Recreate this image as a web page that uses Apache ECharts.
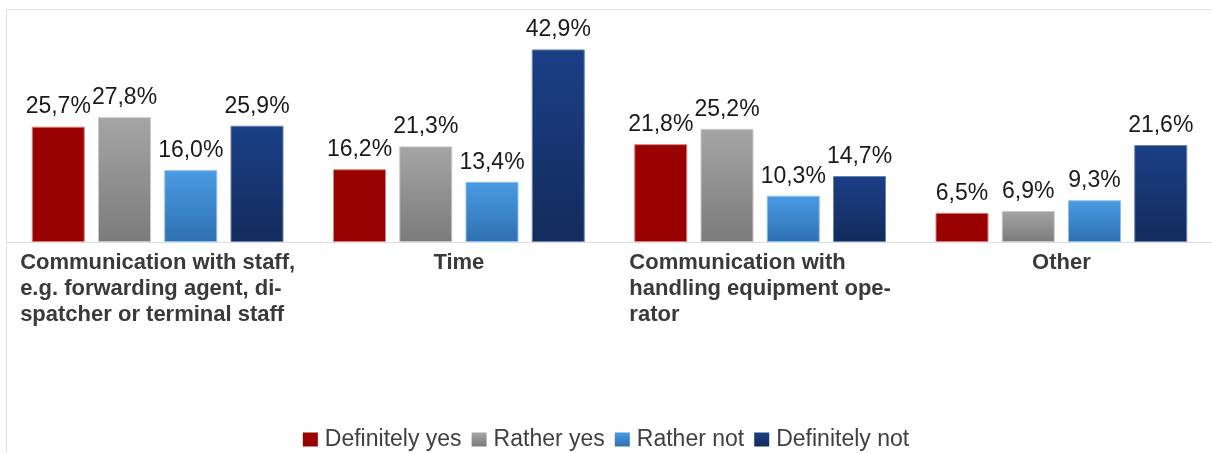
<!DOCTYPE html>
<html>
<head>
<meta charset="utf-8">
<script src="https://cdn.jsdelivr.net/npm/echarts@6/dist/echarts.min.js"></script>
<style>
html,body{margin:0;padding:0;background:#fff;}
#chart{width:1212px;height:453px;}
</style>
</head>
<body>
<div id="chart"></div>
<script>
const categories = [
  'Communication with staff,\ne.g. forwarding agent, di-\nspatcher or terminal staff',
  'Time',
  'Communication with\nhandling equipment ope-\nrator',
  'Other'
];
const seriesNames = ['Definitely yes', 'Rather yes', 'Rather not', 'Definitely not'];
const definitelyYes = [25.7, 16.2, 21.8, 6.5];
const ratherYes = [27.8, 21.3, 25.2, 6.9];
const ratherNot = [16.0, 13.4, 10.3, 9.3];
const definitelyNot = [25.9, 42.9, 14.7, 21.6];

const values = [definitelyYes, ratherYes, ratherNot, definitelyNot];
function grad(top, bottom) {
  return new echarts.graphic.LinearGradient(0, 0, 0, 1, [
    {offset: 0, color: top}, {offset: 1, color: bottom}
  ]);
}
const fills = [
  '#990000',
  grad('#a5a5a5', '#7b7b7b'),
  grad('#4a9be4', '#2f70b0'),
  grad('#1b3f86', '#132b5c')
];
const borders = ['#d98080', '#c8c8c8', '#8cc0ee', '#6a83b3'];
const legendColors = [
  '#990000',
  grad('#a5a5a5', '#7b7b7b'),
  grad('#4a9be4', '#2f70b0'),
  grad('#1b3f86', '#132b5c')
];

const chart = echarts.init(document.getElementById('chart'));
chart.setOption({
  animation: false,
  graphic: [{
    type: 'rect',
    shape: {x: 6.5, y: 9.5, width: 1230, height: 470},
    style: {fill: 'none', stroke: '#dde2ea', lineWidth: 1},
    silent: true
  }],
  legend: {
    top: 423,
    left: 'center',
    itemWidth: 15,
    itemHeight: 14,
    itemGap: 10,
    icon: 'rect',
    textStyle: {fontFamily: 'Liberation Sans', fontSize: 23, color: '#404040', padding: [0, 0, 0, 2]},
    data: seriesNames.map((n, i) => ({name: n, itemStyle: {color: legendColors[i], borderWidth: 0}}))
  },
  grid: {left: 7, width: 1209, top: 40, bottom: 211, containLabel: false},
  xAxis: {
    type: 'category',
    data: categories,
    axisLine: {show: true, lineStyle: {color: '#d9dde5', width: 1}},
    axisTick: {show: false},
    axisLabel: {
      interval: 0,
      margin: 8,
      align: 'center',
      formatter: v => v.split('\n').map(l => '{a|' + l + '}').join('\n'),
      rich: {
        a: {
          align: 'left',
          fontFamily: 'Liberation Sans',
          fontWeight: 'bold',
          fontSize: 22,
          lineHeight: 26,
          color: '#3a3a3a'
        }
      }
    }
  },
  yAxis: {type: 'value', min: 0, max: 45, show: false, splitLine: {show: false}},
  series: seriesNames.map((n, i) => ({
    name: n,
    type: 'bar',
    data: values[i],
    barWidth: 53,
    barGap: '25%',
    itemStyle: {color: fills[i], borderColor: borders[i], borderWidth: 1},
    label: {
      show: true,
      position: 'top',
      distance: 8,
      fontFamily: 'Liberation Sans',
      fontSize: 23,
      color: '#1a1a1a',
      formatter: p => p.value.toFixed(1).replace('.', ',') + '%'
    }
  }))
});
</script>
</body>
</html>
